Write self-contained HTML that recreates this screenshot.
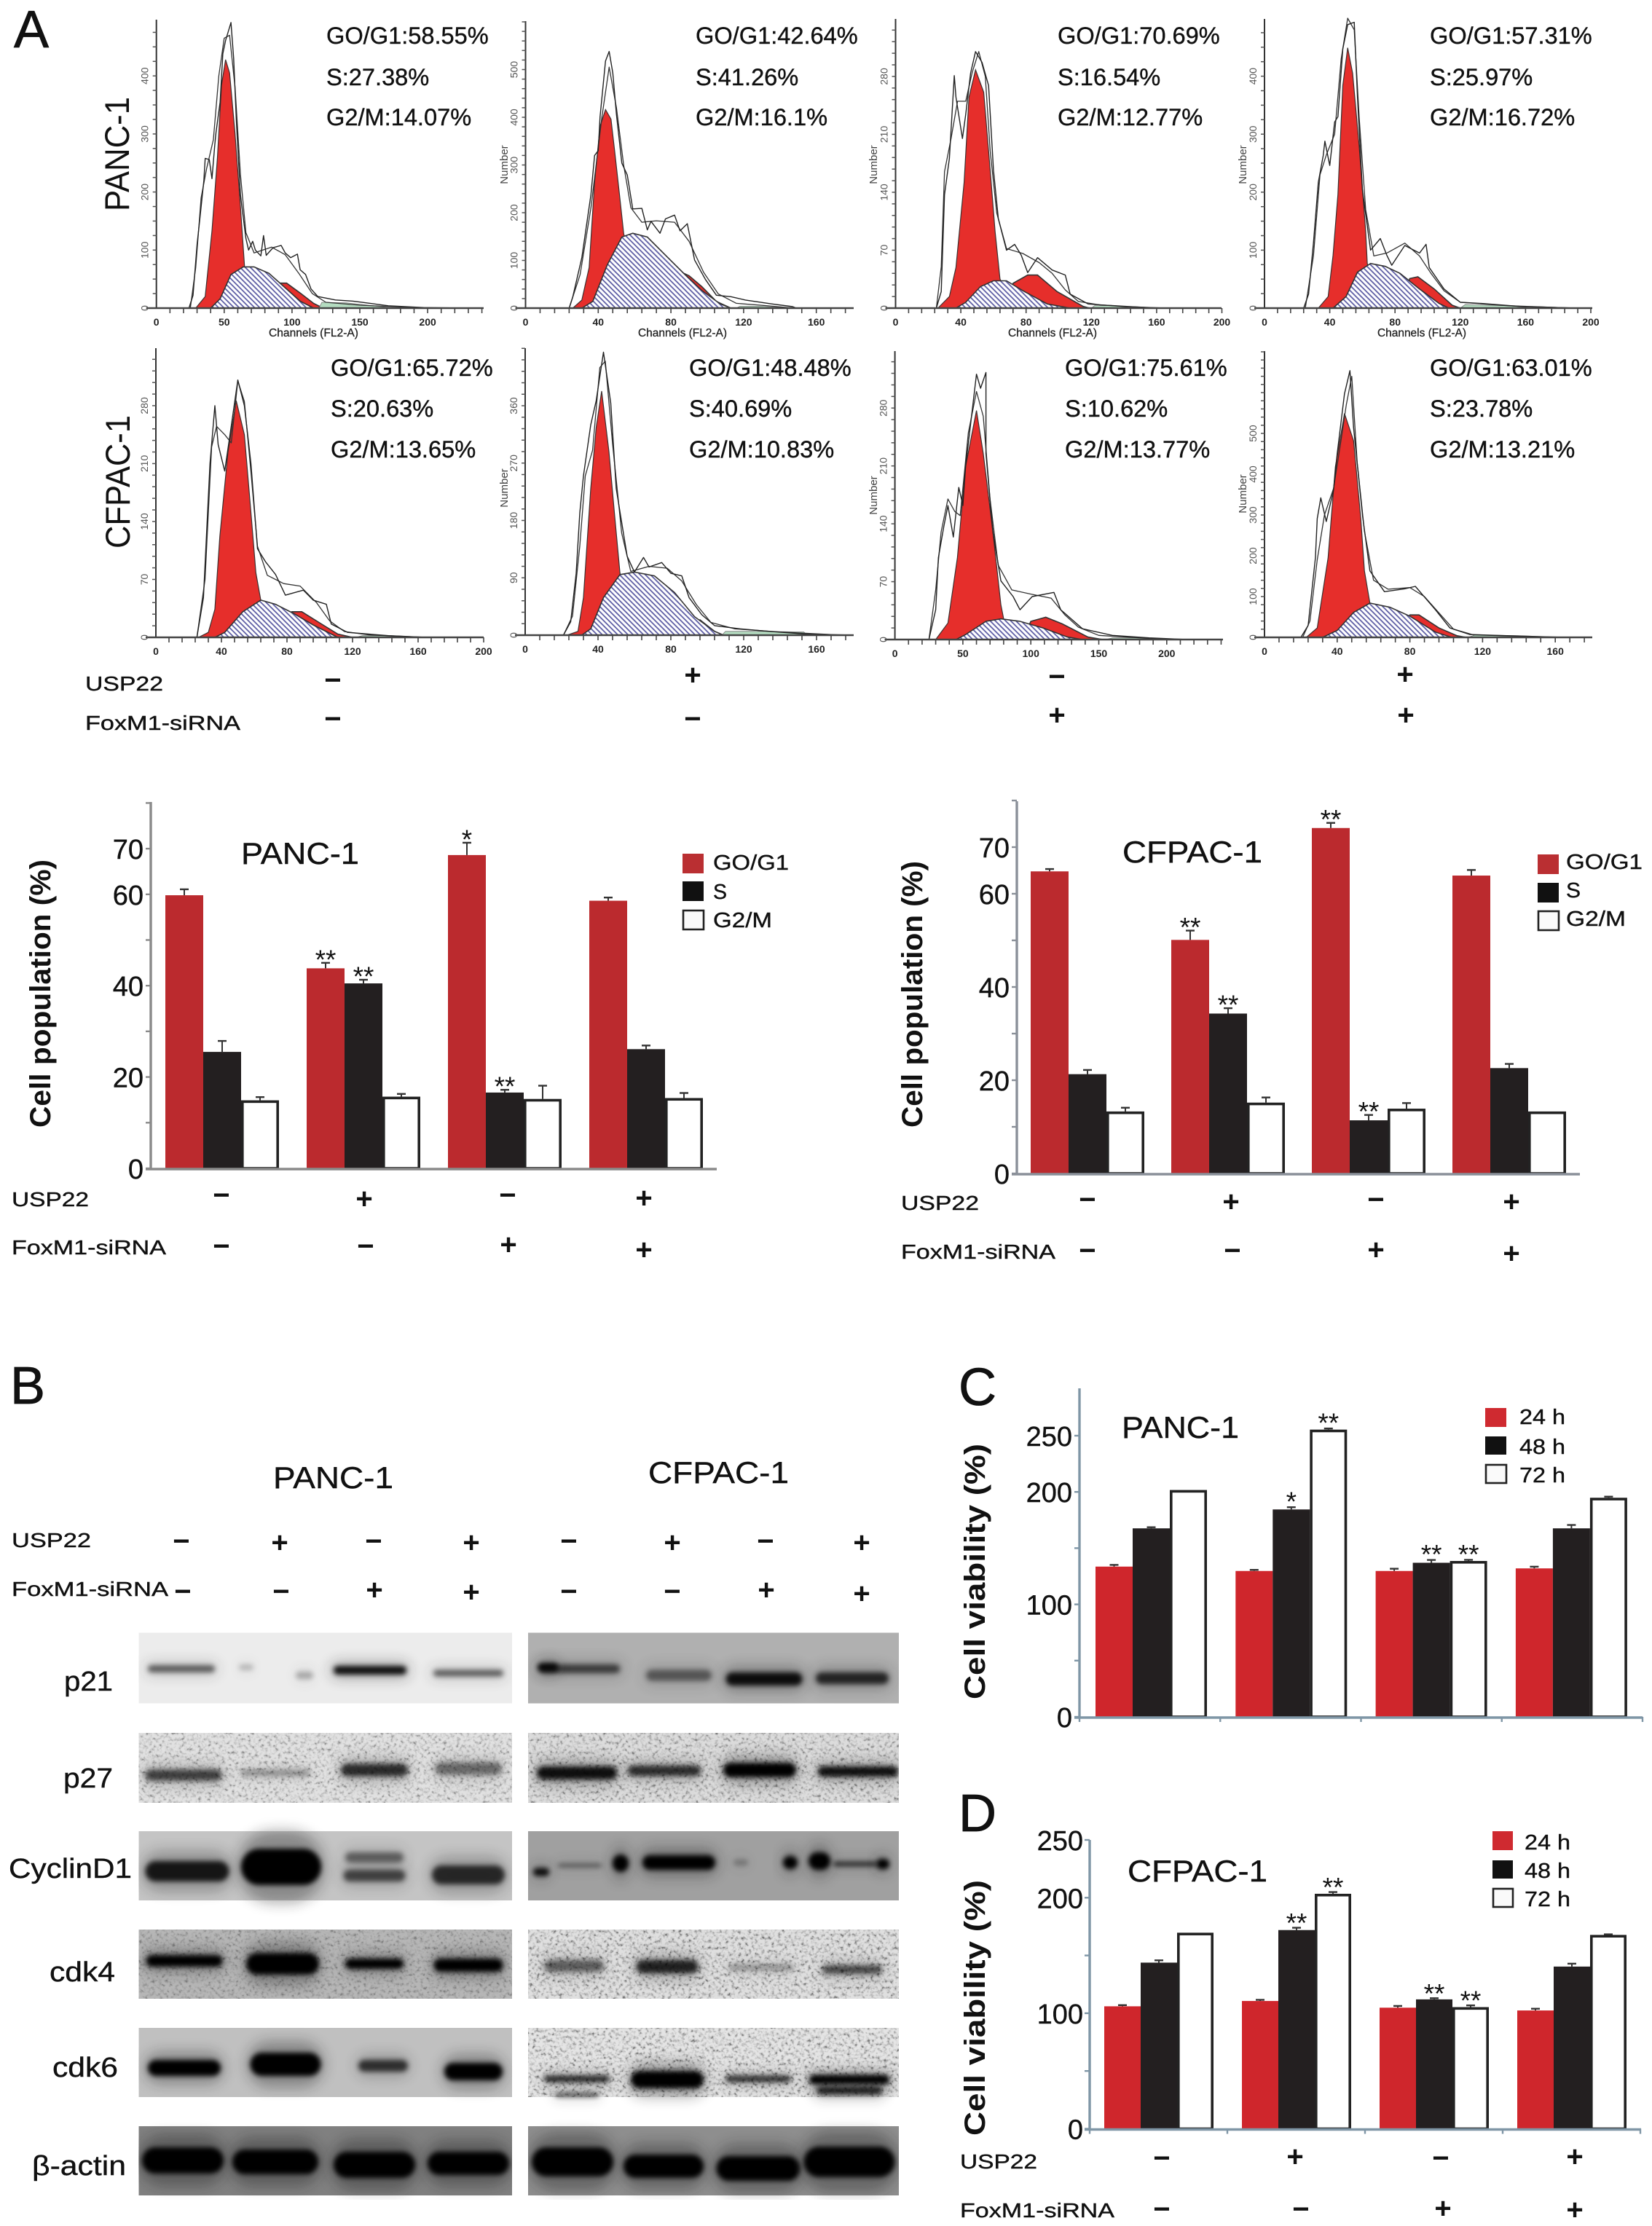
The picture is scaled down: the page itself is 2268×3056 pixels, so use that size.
<!DOCTYPE html>
<html lang="en">
<head>
<meta charset="utf-8">
<title>USP22 and FoxM1 cell cycle figure</title>
<style>
html,body{margin:0;padding:0;background:#fff;}
svg{display:block;}
text{font-family:"Liberation Sans","DejaVu Sans",sans-serif;fill:#111;}
.stat,.title,.leg,.band,.tick,.rowlab{stroke:#111;stroke-width:0.4px;}
.stat{font-size:32.6px;}
.letter{font-size:72px;stroke:#111;stroke-width:0.8px;}
.sign{font-size:40px;font-weight:bold;text-anchor:middle;}
.rowlab{font-size:28px;}
.ytitle{font-size:40px;font-weight:bold;}
.title{font-size:42px;}
.leg{font-size:29px;}
.band{font-size:38px;}
.flowx{font-size:14px;font-weight:bold;fill:#222;text-anchor:middle;}
.flowy{font-size:14px;fill:#555;text-anchor:middle;}
.chan{font-size:16px;fill:#222;stroke:#222;stroke-width:0.3px;}
.num{font-size:15px;fill:#444;text-anchor:middle;}
.tick{font-size:38px;text-anchor:end;}
.star{font-size:37px;text-anchor:middle;}
</style>
</head>
<body>
<svg id="figure" xmlns="http://www.w3.org/2000/svg" width="2268" height="3056" viewBox="0 0 2268 3056">
<defs>
<pattern id="hatch" patternUnits="userSpaceOnUse" width="5" height="5" patternTransform="rotate(45)">
<rect width="5" height="5" fill="#fff"/>
<line x1="0" y1="1.5" x2="5" y2="1.5" stroke="#55559f" stroke-width="1.7"/>
</pattern>
<filter id="soft" x="-60%" y="-150%" width="220%" height="400%"><feGaussianBlur stdDeviation="3.5"/></filter>
<filter id="softer" x="-60%" y="-200%" width="220%" height="500%"><feGaussianBlur stdDeviation="9"/></filter>
<filter id="noise" x="0" y="0" width="100%" height="100%">
<feTurbulence type="fractalNoise" baseFrequency="0.22" numOctaves="2" seed="7"/>
<feColorMatrix type="matrix" values="3 0 0 0 -0.7  3 0 0 0 -0.7  3 0 0 0 -0.7  0 0 0 0 1"/>
</filter>
<clipPath id="clip-left"><rect x="190" y="2240" width="513" height="780"/></clipPath>
<clipPath id="clip-right"><rect x="725" y="2240" width="509" height="780"/></clipPath>
</defs>

<g id="flow-layer"></g>
<g id="bar-layer"></g>
<g id="blot-layer"></g>

<text class="letter" x="19" y="65">A</text>
<text class="letter" x="14" y="1927">B</text>
<text class="letter" x="1316" y="1929">C</text>
<text class="letter" x="1316" y="2514">D</text>

<text x="177" y="290" font-size="47" textLength="157" lengthAdjust="spacingAndGlyphs" transform="rotate(-90 177 290)">PANC-1</text>
<text x="178" y="753" font-size="47" textLength="183" lengthAdjust="spacingAndGlyphs" transform="rotate(-90 178 753)">CFPAC-1</text>

<g>
<text class="stat" x="448" y="60">GO/G1:58.55%</text>
<text class="stat" x="448" y="117">S:27.38%</text>
<text class="stat" x="448" y="172">G2/M:14.07%</text>
<text class="stat" x="955" y="60">GO/G1:42.64%</text>
<text class="stat" x="955" y="117">S:41.26%</text>
<text class="stat" x="955" y="172">G2/M:16.1%</text>
<text class="stat" x="1452" y="60">GO/G1:70.69%</text>
<text class="stat" x="1452" y="117">S:16.54%</text>
<text class="stat" x="1452" y="172">G2/M:12.77%</text>
<text class="stat" x="1963" y="60">GO/G1:57.31%</text>
<text class="stat" x="1963" y="117">S:25.97%</text>
<text class="stat" x="1963" y="172">G2/M:16.72%</text>
<text class="stat" x="454" y="516">GO/G1:65.72%</text>
<text class="stat" x="454" y="572">S:20.63%</text>
<text class="stat" x="454" y="628">G2/M:13.65%</text>
<text class="stat" x="946" y="516">GO/G1:48.48%</text>
<text class="stat" x="946" y="572">S:40.69%</text>
<text class="stat" x="946" y="628">G2/M:10.83%</text>
<text class="stat" x="1462" y="516">GO/G1:75.61%</text>
<text class="stat" x="1462" y="572">S:10.62%</text>
<text class="stat" x="1462" y="628">G2/M:13.77%</text>
<text class="stat" x="1963" y="516">GO/G1:63.01%</text>
<text class="stat" x="1963" y="572">S:23.78%</text>
<text class="stat" x="1963" y="628">G2/M:13.21%</text>
</g>

<g>
<text class="chan" x="369" y="462" textLength="123" lengthAdjust="spacingAndGlyphs">Channels (FL2-A)</text>
<text class="chan" x="876" y="462" textLength="122" lengthAdjust="spacingAndGlyphs">Channels (FL2-A)</text>
<text class="chan" x="1384" y="462" textLength="122" lengthAdjust="spacingAndGlyphs">Channels (FL2-A)</text>
<text class="chan" x="1891" y="462" textLength="122" lengthAdjust="spacingAndGlyphs">Channels (FL2-A)</text>
<text class="num" x="697" y="226" transform="rotate(-90 697 226)">Number</text>
<text class="num" x="1204" y="226" transform="rotate(-90 1204 226)">Number</text>
<text class="num" x="1711" y="226" transform="rotate(-90 1711 226)">Number</text>
<text class="num" x="697" y="670" transform="rotate(-90 697 670)">Number</text>
<text class="num" x="1204" y="680" transform="rotate(-90 1204 680)">Number</text>
<text class="num" x="1711" y="678" transform="rotate(-90 1711 678)">Number</text>
</g>

<g>
<text class="rowlab" x="117" y="948" textLength="107" lengthAdjust="spacingAndGlyphs">USP22</text>
<text class="rowlab" x="117" y="1002" textLength="213" lengthAdjust="spacingAndGlyphs">FoxM1-siRNA</text>
<text class="sign" x="457" y="947">−</text>
<text class="sign" x="951" y="940">+</text>
<text class="sign" x="1451" y="942">−</text>
<text class="sign" x="1929" y="939">+</text>
<text class="sign" x="457" y="1000">−</text>
<text class="sign" x="951" y="1000">−</text>
<text class="sign" x="1451" y="995">+</text>
<text class="sign" x="1930" y="995">+</text>
</g>

<g>
<text class="ytitle" x="69" y="1548" textLength="368" lengthAdjust="spacingAndGlyphs" transform="rotate(-90 69 1548)">Cell population (%)</text>
<text class="title" x="331" y="1186" textLength="162" lengthAdjust="spacingAndGlyphs">PANC-1</text>
<text class="leg" x="979" y="1194" textLength="104" lengthAdjust="spacingAndGlyphs">GO/G1</text>
<text class="leg" x="979" y="1234" textLength="19" lengthAdjust="spacingAndGlyphs">S</text>
<text class="leg" x="979" y="1273" textLength="81" lengthAdjust="spacingAndGlyphs">G2/M</text>
<text class="rowlab" x="16" y="1656" textLength="106" lengthAdjust="spacingAndGlyphs">USP22</text>
<text class="rowlab" x="16" y="1722" textLength="212" lengthAdjust="spacingAndGlyphs">FoxM1-siRNA</text>
<text class="sign" x="304" y="1654">−</text>
<text class="sign" x="500" y="1659">+</text>
<text class="sign" x="697" y="1654">−</text>
<text class="sign" x="884" y="1658">+</text>
<text class="sign" x="304" y="1724">−</text>
<text class="sign" x="502" y="1724">−</text>
<text class="sign" x="698" y="1722">+</text>
<text class="sign" x="884" y="1729">+</text>
</g>

<g>
<text class="ytitle" x="1266" y="1548" textLength="366" lengthAdjust="spacingAndGlyphs" transform="rotate(-90 1266 1548)">Cell population (%)</text>
<text class="title" x="1541" y="1184" textLength="192" lengthAdjust="spacingAndGlyphs">CFPAC-1</text>
<text class="leg" x="2150" y="1193" textLength="105" lengthAdjust="spacingAndGlyphs">GO/G1</text>
<text class="leg" x="2150" y="1232" textLength="20" lengthAdjust="spacingAndGlyphs">S</text>
<text class="leg" x="2150" y="1271" textLength="82" lengthAdjust="spacingAndGlyphs">G2/M</text>
<text class="rowlab" x="1237" y="1661" textLength="107" lengthAdjust="spacingAndGlyphs">USP22</text>
<text class="rowlab" x="1237" y="1728" textLength="212" lengthAdjust="spacingAndGlyphs">FoxM1-siRNA</text>
<text class="sign" x="1493" y="1660">−</text>
<text class="sign" x="1690" y="1663">+</text>
<text class="sign" x="1889" y="1660">−</text>
<text class="sign" x="2075" y="1663">+</text>
<text class="sign" x="1493" y="1730">−</text>
<text class="sign" x="1692" y="1730">−</text>
<text class="sign" x="1889" y="1729">+</text>
<text class="sign" x="2075" y="1734">+</text>
</g>

<g>
<text class="title" x="375" y="2043" textLength="165" lengthAdjust="spacingAndGlyphs">PANC-1</text>
<text class="title" x="890" y="2036" textLength="193" lengthAdjust="spacingAndGlyphs">CFPAC-1</text>
<text class="rowlab" x="16" y="2124" textLength="109" lengthAdjust="spacingAndGlyphs">USP22</text>
<text class="rowlab" x="16" y="2191" textLength="215" lengthAdjust="spacingAndGlyphs">FoxM1-siRNA</text>
<text class="sign" x="249" y="2129">−</text>
<text class="sign" x="384" y="2131">+</text>
<text class="sign" x="513" y="2129">−</text>
<text class="sign" x="647" y="2131">+</text>
<text class="sign" x="781" y="2129">−</text>
<text class="sign" x="923" y="2131">+</text>
<text class="sign" x="1051" y="2129">−</text>
<text class="sign" x="1183" y="2131">+</text>
<text class="sign" x="251" y="2198">−</text>
<text class="sign" x="386" y="2198">−</text>
<text class="sign" x="514" y="2196">+</text>
<text class="sign" x="647" y="2199">+</text>
<text class="sign" x="781" y="2198">−</text>
<text class="sign" x="923" y="2198">−</text>
<text class="sign" x="1052" y="2196">+</text>
<text class="sign" x="1183" y="2201">+</text>
<text class="band" x="88" y="2321" textLength="67" lengthAdjust="spacingAndGlyphs">p21</text>
<text class="band" x="87" y="2454" textLength="68" lengthAdjust="spacingAndGlyphs">p27</text>
<text class="band" x="12" y="2578" textLength="169" lengthAdjust="spacingAndGlyphs">CyclinD1</text>
<text class="band" x="68" y="2720" textLength="90" lengthAdjust="spacingAndGlyphs">cdk4</text>
<text class="band" x="72" y="2851" textLength="90" lengthAdjust="spacingAndGlyphs">cdk6</text>
<text class="band" x="44" y="2986" textLength="129" lengthAdjust="spacingAndGlyphs">β-actin</text>
</g>

<g>
<text class="ytitle" x="1352" y="2333" textLength="351" lengthAdjust="spacingAndGlyphs" transform="rotate(-90 1352 2333)">Cell viability (%)</text>
<text class="title" x="1540" y="1974" textLength="161" lengthAdjust="spacingAndGlyphs">PANC-1</text>
<text class="leg" x="2086" y="1955" textLength="63" lengthAdjust="spacingAndGlyphs">24 h</text>
<text class="leg" x="2086" y="1996" textLength="63" lengthAdjust="spacingAndGlyphs">48 h</text>
<text class="leg" x="2086" y="2035" textLength="63" lengthAdjust="spacingAndGlyphs">72 h</text>
</g>

<g>
<text class="ytitle" x="1352" y="2932" textLength="351" lengthAdjust="spacingAndGlyphs" transform="rotate(-90 1352 2932)">Cell viability (%)</text>
<text class="title" x="1548" y="2583" textLength="192" lengthAdjust="spacingAndGlyphs">CFPAC-1</text>
<text class="leg" x="2093" y="2539" textLength="63" lengthAdjust="spacingAndGlyphs">24 h</text>
<text class="leg" x="2093" y="2578" textLength="63" lengthAdjust="spacingAndGlyphs">48 h</text>
<text class="leg" x="2093" y="2617" textLength="63" lengthAdjust="spacingAndGlyphs">72 h</text>
<text class="rowlab" x="1318" y="2977" textLength="106" lengthAdjust="spacingAndGlyphs">USP22</text>
<text class="rowlab" x="1318" y="3044" textLength="212" lengthAdjust="spacingAndGlyphs">FoxM1-siRNA</text>
<text class="sign" x="1595" y="2976">−</text>
<text class="sign" x="1778" y="2974">+</text>
<text class="sign" x="1978" y="2976">−</text>
<text class="sign" x="2162" y="2974">+</text>
<text class="sign" x="1595" y="3046">−</text>
<text class="sign" x="1786" y="3046">−</text>
<text class="sign" x="1981" y="3045">+</text>
<text class="sign" x="2162" y="3047">+</text>
</g>
</svg>

<script>
// ---------- Flow histogram series: [channel, count] ----------
const p1G1=[[29,0],[36,20],[38,66],[41,133],[45,259],[48,384],[51,428],[54,405],[58,300],[62,175],[65,72],[70,0]];
const p1S=[[40,0],[47,16],[55,58],[64,71],[72,71],[83,60],[93,39],[106,12],[116,0]];
const p1G2=[[80,0],[90,43],[96,43],[106,26],[116,8],[123,0]];
const p1Debris=[[120,0],[122,10],[140,9],[160,4],[175,0]];
const p1Raw=[[24,0],[27,22],[30,110],[32,153],[35,220],[36,258],[39,256],[41,223],[43,280],[44,303],[47,355],[49,438],[51,461],[55,492],[57,430],[59,320],[62,195],[66,120],[68,100],[71,115],[73,100],[77,90],[79,125],[81,91],[86,104],[92,108],[95,95],[99,87],[104,93],[106,66],[110,58],[114,33],[119,20],[132,14],[145,12],[158,8],[171,4],[197,1],[226,0]];
const p1Fit=[[25,0],[29,70],[33,190],[37,240],[42,290],[46,400],[50,465],[54,470],[58,380],[62,230],[66,130],[72,95],[85,105],[95,92],[105,60],[115,25],[125,10],[150,5],[200,0]];

const p2G1=[[26,0],[31,17],[35,85],[38,264],[41,381],[44,416],[47,396],[49,330],[52,228],[54,157],[63,0]];
const p2S=[[31,0],[37,14],[45,91],[53,149],[59,157],[67,149],[77,111],[87,73],[97,37],[107,9],[113,0]];
const p2G2=[[77,0],[87,73],[90,68],[97,45],[105,14],[113,0]];
const p2Debris=[[116,0],[118,4],[130,4],[145,0]];
const p2Raw=[[24,0],[26,24],[31,106],[36,238],[38,320],[40,330],[41,401],[44,518],[46,538],[48,493],[50,406],[53,304],[56,279],[59,208],[64,209],[67,164],[69,182],[74,157],[77,187],[82,195],[85,162],[89,177],[93,101],[99,60],[105,27],[113,24],[121,17],[135,9],[147,3],[149,0]];
const p2Fit=[[24,0],[30,70],[36,210],[42,400],[46,505],[50,420],[54,300],[58,210],[64,180],[72,183],[82,180],[90,140],[98,75],[106,30],[116,10],[130,6],[148,0]];

const p3G1=[[26,0],[33,14],[37,49],[42,152],[45,255],[49,288],[54,261],[58,167],[61,93],[64,35],[74,0]];
const p3S=[[37,0],[43,7],[52,26],[60,33],[68,33],[78,21],[93,5],[107,0]];
const p3G2=[[68,0],[72,30],[81,40],[87,40],[99,20],[115,2],[119,0]];
const p3Debris=[[120,0],[122,3],[135,3],[145,0]];
const p3Raw=[[25,0],[28,20],[30,137],[33,181],[36,281],[37,255],[41,205],[43,234],[46,284],[49,310],[53,297],[57,269],[60,167],[63,108],[68,70],[73,77],[77,64],[81,43],[87,61],[96,46],[104,40],[107,17],[118,5],[139,2],[165,0]];
const p3Fit=[[25,0],[28,50],[30,165],[34,205],[38,250],[43,250],[47,285],[51,310],[55,280],[58,190],[62,115],[68,72],[78,66],[88,55],[96,42],[104,22],[112,8],[125,4],[160,0]];

const p4G1=[[33,0],[39,20],[42,91],[45,196],[48,384],[51,449],[54,405],[58,280],[62,133],[63,77],[71,0]];
const p4S=[[42,0],[50,20],[57,62],[65,77],[74,72],[83,60],[95,33],[107,8],[113,0]];
const p4G2=[[83,0],[89,51],[94,54],[104,33],[115,5],[120,0]];
const p4Debris=[[120,0],[123,6],[150,4],[165,0]];
const p4Raw=[[24,0],[27,24],[30,112],[33,217],[36,263],[37,288],[40,246],[43,321],[45,330],[48,447],[51,489],[55,493],[57,363],[60,204],[65,100],[71,120],[75,91],[78,74],[86,108],[95,95],[99,110],[101,70],[110,33],[120,10],[133,8],[156,3],[191,0]];
const p4Fit=[[25,0],[30,90],[34,230],[38,265],[43,300],[47,430],[51,500],[55,480],[58,330],[62,170],[67,90],[75,95],[86,112],[95,90],[102,60],[110,30],[120,10],[150,4],[190,0]];

const p5G1=[[26,0],[32,6],[36,34],[39,122],[44,224],[49,286],[54,245],[58,151],[61,78],[64,45],[71,0]];
const p5S=[[36,0],[42,6],[53,31],[64,45],[73,40],[84,29],[96,15],[111,0]];
const p5G2=[[79,0],[83,31],[89,31],[102,15],[111,4],[120,0]];
const p5Debris=[[122,0],[126,2],[140,2],[150,0]];
const p5Raw=[[25,0],[29,48],[33,210],[36,280],[38,233],[42,201],[45,242],[50,311],[54,280],[58,210],[62,107],[67,91],[73,76],[79,51],[90,57],[96,45],[104,40],[107,16],[117,6],[142,2],[165,0]];
const p5Fit=[[25,0],[30,70],[34,230],[37,255],[42,245],[46,235],[50,310],[54,285],[58,200],[62,110],[68,75],[78,65],[88,62],[98,42],[106,20],[115,7],[130,3],[165,0]];

const p6G1=[[23,0],[29,6],[32,59],[36,230],[39,326],[42,383],[46,288],[49,192],[52,99],[58,0]];
const p6S=[[31,0],[36,10],[43,59],[52,95],[60,99],[71,93],[82,67],[93,29],[104,6],[109,0]];
const p6G2=[[90,0],[96,24],[104,6],[108,0]];
const p6Debris=[[108,0],[110,6],[130,6],[153,5],[155,0]];
const p6Raw=[[21,0],[25,21],[28,97],[30,192],[32,250],[36,330],[39,368],[43,444],[47,364],[50,230],[56,124],[60,99],[65,122],[68,107],[75,114],[80,97],[86,93],[90,59],[97,32],[104,15],[118,10],[134,6],[153,2],[180,0]];
const p6Fit=[[21,0],[26,30],[30,140],[33,250],[37,290],[41,420],[44,430],[48,300],[53,160],[58,100],[68,108],[78,105],[86,85],[94,48],[102,20],[115,10],[140,5],[175,0]];

const p7G1=[[30,0],[39,20],[46,99],[52,209],[60,277],[65,225],[72,131],[78,42],[80,25],[94,0]];
const p7S=[[45,0],[52,6],[67,22],[78,25],[92,22],[109,14],[127,3],[138,0]];
const p7G2=[[94,0],[100,22],[111,27],[123,19],[142,3],[153,0]];
const p7Debris=[[155,0],[160,2],[180,2],[190,0]];
const p7Raw=[[25,0],[30,36],[32,99],[36,137],[39,162],[43,124],[47,184],[50,162],[52,209],[60,321],[63,304],[67,323],[67,225],[72,131],[78,71],[87,52],[92,36],[101,52],[117,57],[122,36],[138,13],[160,5],[187,2],[215,0]];
const p7Fit=[[25,0],[30,60],[34,130],[39,170],[44,155],[48,150],[54,250],[60,300],[65,270],[70,170],[76,90],[86,60],[100,55],[115,50],[125,30],[135,15],[150,5],[200,0]];

const p8G1=[[23,0],[29,23],[35,195],[39,418],[44,549],[49,482],[53,291],[55,163],[58,84],[66,0]];
const p8S=[[32,0],[40,17],[49,61],[58,84],[69,74],[80,52],[94,13],[103,0]];
const p8G2=[[75,0],[80,55],[85,55],[96,23],[106,4],[111,0]];
const p8Debris=[[112,0],[116,6],[140,4],[165,0]];
const p8Raw=[[20,0],[24,29],[28,195],[29,291],[31,342],[34,284],[38,361],[40,450],[44,597],[47,654],[49,514],[54,297],[58,163],[61,144],[66,112],[77,119],[83,125],[88,99],[94,68],[102,23],[113,7],[135,4],[165,0]];
const p8Fit=[[21,0],[25,40],[29,190],[33,300],[38,365],[42,480],[45,570],[48,640],[51,430],[55,260],[60,140],[68,118],[80,122],[88,100],[96,60],[104,20],[115,6],[160,0]];

// Flow tick labels
const xTicks50=[0,50,100,150,200];
const xTicks40=[0,40,80,120,160];
const xTicks40To200=[0,40,80,120,160,200];
const yTicks100To400=[0,100,200,300,400];
const yTicks100To500=[0,100,200,300,400,500];
const yTicks70=[0,70,140,210,280];
const yTicks90=[0,90,180,270,360];

// ---------- Bar chart data ----------
const groupCount=4;
const populationTickValues=[0,10,20,30,40,50,60,70,80];
const populationTickLabels=[0,20,40,60,70];
const viabilityTickValues=[0,50,100,150,200,250];
const viabilityTickLabels=[0,100,200,250];

const pancG1Values=[59.8,43.8,68.6,58.6];
const pancSValues=[25.5,40.5,16.6,26.1];
const pancG2Values=[14.9,15.7,15.2,15.4];
const pancG1Errors=[1.3,1.2,2.7,0.7];
const pancSErrors=[2.4,0.8,0.6,0.8];
const pancG2Errors=[0.7,0.6,2.9,1.1];
const pancStars=[[1,0,'**'],[1,1,'**'],[2,0,'*'],[2,1,'**']];

const cfpacG1Values=[64.8,50.1,74.1,63.9];
const cfpacSValues=[21.3,34.3,11.4,22.6];
const cfpacG2Values=[13.3,15.2,13.9,13.3];
const cfpacG1Errors=[0.5,2.0,1.1,1.2];
const cfpacSErrors=[0.9,1.15,1.15,0.9];
const cfpacG2Errors=[0.8,1.1,1.2,0];
const cfpacStars=[[1,0,'**'],[1,1,'**'],[2,0,'**'],[2,1,'**']];

const viabPanc24=[133.6,129.7,129.7,132];
const viabPanc48=[167.6,184.4,137,167.6];
const viabPanc72=[201.7,255.4,138.6,194.8];
const viabPanc24Err=[1.5,1,2,1.5];
const viabPanc48Err=[1,2,2.5,3];
const viabPanc72Err=[0,1,1,1];
const viabPancStars=[[1,1,'*'],[1,2,'**'],[2,1,'**'],[2,2,'**']];

const viabCfpac24=[106,110.6,104.8,102.4];
const viabCfpac48=[143.8,172,112,140.4];
const viabCfpac72=[169.7,203.4,105.3,167.8];
const viabCfpac24Err=[1,1,1.5,1.5];
const viabCfpac48Err=[2,2,1,2.5];
const viabCfpac72Err=[0,1.5,1.5,0.5];
const viabCfpacStars=[[1,1,'**'],[1,2,'**'],[2,1,'**'],[2,2,'**']];

// ---------- Helpers ----------
const NS='http://www.w3.org/2000/svg';
function mk(parent,tag,attrs){
  const e=document.createElementNS(NS,tag);
  for(const k in attrs){e.setAttribute(k,attrs[k]);}
  parent.appendChild(e);
  return e;
}
function pointsOf(curve,sx,sy){
  return curve.map(function(p){return sx(p[0]).toFixed(1)+','+sy(p[1]).toFixed(1);}).join(' ');
}

// ---------- Flow panels ----------
function drawFlow(name,a,g1,s,g2,debris,raw,fit,xTicks,yTicks){
  const layer=document.getElementById('flow-layer');
  const g=mk(layer,'g',{});
  
  
  const sx=function(c){return a.x0+c*a.pxCh;};
  const sy=function(v){return a.y0-v*a.pxCt;};

  const fillG1=mk(g,'polygon',{points:pointsOf(g1,sx,sy),fill:'#e62e2b',stroke:'#3a3030','stroke-width':1.2});
  
  
  const fillG2=mk(g,'polygon',{points:pointsOf(g2,sx,sy),fill:'#e62e2b',stroke:'#333','stroke-width':1.6});
  
  
  const fillS=mk(g,'polygon',{points:pointsOf(s,sx,sy),fill:'url(#hatch)',stroke:'#333','stroke-width':1.6});
  
  
  const fillD=mk(g,'polygon',{points:pointsOf(debris,sx,sy),fill:'#b4dcc0',stroke:'#777','stroke-width':0.8});
  
  
  const lineFit=mk(g,'polyline',{points:pointsOf(fit,sx,sy),fill:'none',stroke:'#333','stroke-width':1.3,'stroke-linejoin':'round'});
  
  
  const lineRaw=mk(g,'polyline',{points:pointsOf(raw,sx,sy),fill:'none',stroke:'#222','stroke-width':1.4,'stroke-linejoin':'round'});
  
  

  const yAxis=mk(g,'line',{x1:a.x0,x2:a.x0,y1:a.yTop,y2:a.y0,stroke:'#333','stroke-width':2});
  
  
  const xAxis=mk(g,'line',{x1:a.x0-14,x2:a.xEnd,y1:a.y0,y2:a.y0,stroke:'#444','stroke-width':2.6});
  
  

  for(let c=a.xMinor;sx(c)<=a.xEnd+0.5;c+=a.xMinor){
    const t=mk(g,'line',{x1:sx(c),x2:sx(c),y1:a.y0,y2:a.y0+7,stroke:'#444','stroke-width':1.6});
    
    
  }
  for(let v=a.yMinor;sy(v)>=a.yTop;v+=a.yMinor){
    const t=mk(g,'line',{x1:a.x0-5,x2:a.x0,y1:sy(v),y2:sy(v),stroke:'#555','stroke-width':1.5});
    
    
  }
  xTicks.forEach(function(c){
    const l=mk(g,'text',{x:sx(c),y:a.y0+24,'class':'flowx'});
    l.textContent=String(c);
    
    
  });
  yTicks.forEach(function(v){
    const lx=a.x0-11,ly=sy(v);
    const l=mk(g,'text',{x:lx,y:ly,'class':'flowy',transform:'rotate(-90 '+lx+' '+ly+')'});
    l.textContent=String(v);
    
    
  });
}
drawFlow('panc1-control',{x0:214.7,pxCh:1.862,xEnd:664,y0:423,pxCt:0.797,yTop:27,xMinor:10,yMinor:25},p1G1,p1S,p1G2,p1Debris,p1Raw,p1Fit,xTicks50,yTicks100To400);
drawFlow('panc1-usp22',{x0:721.5,pxCh:2.495,xEnd:1172,y0:423,pxCt:0.655,yTop:29,xMinor:8,yMinor:20},p2G1,p2S,p2G2,p2Debris,p2Raw,p2Fit,xTicks40,yTicks100To500);
drawFlow('panc1-sirna',{x0:1229.5,pxCh:2.24,xEnd:1677,y0:423,pxCt:1.136,yTop:26,xMinor:8,yMinor:14},p3G1,p3S,p3G2,p3Debris,p3Raw,p3Fit,xTicks40To200,yTicks70);
drawFlow('panc1-both',{x0:1736,pxCh:2.24,xEnd:2186,y0:423,pxCt:0.796,yTop:26,xMinor:8,yMinor:25},p4G1,p4S,p4G2,p4Debris,p4Raw,p4Fit,xTicks40To200,yTicks100To400);
drawFlow('cfpac1-control',{x0:214,pxCh:2.25,xEnd:664,y0:875,pxCt:1.136,yTop:478,xMinor:8,yMinor:14},p5G1,p5S,p5G2,p5Debris,p5Raw,p5Fit,xTicks40To200,yTicks70);
drawFlow('cfpac1-usp22',{x0:721,pxCh:2.5,xEnd:1172,y0:872,pxCt:0.875,yTop:478,xMinor:8,yMinor:18},p6G1,p6S,p6G2,p6Debris,p6Raw,p6Fit,xTicks40,yTicks90);
drawFlow('cfpac1-sirna',{x0:1228.6,pxCh:1.866,xEnd:1679,y0:878,pxCt:1.135,yTop:482,xMinor:10,yMinor:14},p7G1,p7S,p7G2,p7Debris,p7Raw,p7Fit,xTicks50,yTicks70);
drawFlow('cfpac1-both',{x0:1736,pxCh:2.495,xEnd:2186,y0:875,pxCt:0.56,yTop:482,xMinor:8,yMinor:20},p8G1,p8S,p8G2,p8Debris,p8Raw,p8Fit,xTicks40,yTicks100To500);

// ---------- Bar charts ----------
function drawBars(name,a,series,errors,colors,tickValues,tickLabels,stars){
  const layer=document.getElementById('bar-layer');
  const g=mk(layer,'g',{});
  
  
  const sy=function(v){return a.base-v*a.unit;};
  const sx=function(grp,ser){return a.start+grp*a.step+ser*a.barW;};

  series.forEach(function(vals,ser){
    vals.forEach(function(v,grp){
      const x=sx(grp,ser),cx=x+a.barW/2;
      const top=sy(v),cap=sy(v+errors[ser][grp]);
      if(errors[ser][grp]>0){
        const eb=mk(g,'line',{x1:cx,x2:cx,y1:top,y2:cap,stroke:'#333','stroke-width':2});
        
        
        const ec=mk(g,'line',{x1:cx-6,x2:cx+6,y1:cap,y2:cap,stroke:'#333','stroke-width':2.4});
        
        
      }
      const outlined=colors[ser]==='#ffffff';
      const inset=outlined?1.8:0;
      const r=mk(g,'rect',{x:x+inset,y:top+inset,width:a.barW-2*inset,height:a.base-top-inset,fill:colors[ser]});
      if(outlined){r.setAttribute('stroke','#222');r.setAttribute('stroke-width',3.6);}
      
      
    });
  });

  const yAxis=mk(g,'line',{x1:a.axisX,x2:a.axisX,y1:a.axisTop,y2:a.base,stroke:a.axisColor,'stroke-width':3.4});
  
  
  const xAxis=mk(g,'line',{x1:a.axisX-7,x2:a.axisEnd,y1:a.base+1,y2:a.base+1,stroke:a.axisColor,'stroke-width':3.6});
  
  
  tickValues.forEach(function(v){
    const t=mk(g,'line',{x1:a.axisX-7,x2:a.axisX,y1:sy(v),y2:sy(v),stroke:a.axisColor,'stroke-width':2.4});
    
    
  });
  tickLabels.forEach(function(v){
    const l=mk(g,'text',{x:a.labelX,y:sy(v)+14,'class':'tick'});
    l.textContent=String(v);
    
    
  });
  if(a.xTickStep){
    for(let i=0;i<=groupCount;i++){
      const t=mk(g,'line',{x1:a.axisX+i*a.xTickStep,x2:a.axisX+i*a.xTickStep,y1:a.base,y2:a.base+7,stroke:a.axisColor,'stroke-width':2.4});
      
      
    }
  }
  stars.forEach(function(st){
    const grp=st[0],ser=st[1];
    const cap=sy(series[ser][grp]+errors[ser][grp]);
    const l=mk(g,'text',{x:sx(grp,ser)+a.barW/2,y:cap+a.starDy,'class':'star'});
    l.textContent=st[2];
    
    
  });
  a.legend.forEach(function(box,i){
    const white=colors[i]==='#ffffff';
    const k=mk(g,'rect',{x:box[0],y:box[1],width:box[2],height:box[3],fill:white?'#fafafa':(i===0?a.legendRed:'#111')});
    if(white){k.setAttribute('stroke','#222');k.setAttribute('stroke-width',2.6);}
    
    
  });
}
drawBars('population-panc1',
  {base:1604,unit:6.27,start:227,step:194,barW:52,axisX:207,axisTop:1101,axisEnd:984,axisColor:'#8a8a8a',labelX:197,starDy:8,legendRed:'#ba2f32',
   legend:[[937,1172,29,27],[937,1210,29,27],[938,1250,28,26]]},
  [pancG1Values,pancSValues,pancG2Values],[pancG1Errors,pancSErrors,pancG2Errors],
  ['#bb2a2e','#231f20','#ffffff'],populationTickValues,populationTickLabels,pancStars);
drawBars('population-cfpac1',
  {base:1611,unit:6.4,start:1415,step:193,barW:52,axisX:1396,axisTop:1100,axisEnd:2169,axisColor:'#8a9099',labelX:1386,starDy:8,legendRed:'#ba2f32',
   legend:[[2111,1173,29,27],[2111,1212,29,27],[2112,1251,28,26]]},
  [cfpacG1Values,cfpacSValues,cfpacG2Values],[cfpacG1Errors,cfpacSErrors,cfpacG2Errors],
  ['#bb2a2e','#231f20','#ffffff'],populationTickValues,populationTickLabels,cfpacStars);
drawBars('viability-panc1',
  {base:2357,unit:1.544,start:1504,step:192.3,barW:51,axisX:1482,axisTop:1906,axisEnd:2255,axisColor:'#7f96a6',labelX:1472,starDy:5,legendRed:'#cf2a30',xTickStep:193.25,
   legend:[[2039,1933,29,26],[2039,1972,29,25],[2040,2011,28,25]]},
  [viabPanc24,viabPanc48,viabPanc72],[viabPanc24Err,viabPanc48Err,viabPanc72Err],
  ['#cf262c','#231f20','#ffffff'],viabilityTickValues,viabilityTickLabels,viabPancStars);
drawBars('viability-cfpac1',
  {base:2922.5,unit:1.586,start:1516,step:189,barW:50,axisX:1496,axisTop:2526,axisEnd:2253,axisColor:'#7f96a6',labelX:1487,starDy:6,legendRed:'#cf2a30',xTickStep:189,
   legend:[[2049,2514,28,26],[2049,2554,28,25],[2050,2593,27,25]]},
  [viabCfpac24,viabCfpac48,viabCfpac72],[viabCfpac24Err,viabCfpac48Err,viabCfpac72Err],
  ['#cf262c','#231f20','#ffffff'],viabilityTickValues,viabilityTickLabels,viabCfpacStars);

// ---------- Western blots ----------
const blotLeftBackgrounds=[['p21',2241.5,97,'#ececec',0],['p27',2379,96,'#d4d4d4',0.3],['cyclind1',2514,95,'#c4c4c4',0],['cdk4',2649,95,'#a4a4a4',0.2],['cdk6',2784,95,'#c0c0c0',0],['beta-actin',2919,95,'#808080',0]];
const blotRightBackgrounds=[['p21',2241.5,97,'#b0b0b0',0],['p27',2379,96,'#cacaca',0.35],['cyclind1',2514,95,'#a0a0a0',0],['cdk4',2649,95,'#cacaca',0.4],['cdk6',2784,95,'#d2d2d2',0.4],['beta-actin',2919,95,'#8e8e8e',0]];
const blotLeftBands=[
[249,2291,92,10,.55],[338,2289,20,8,.2],[418,2300,24,10,.25],[508,2293,100,12,.9],[643,2297,96,9,.55],
[252,2437,105,15,.65],[378,2434,95,9,.3],[514,2430,92,17,.75],[643,2428,92,17,.45],
[257,2569,115,28,.85],[386,2563,110,50,1],[514,2550,80,14,.45],[514,2575,85,16,.6],[643,2574,100,26,.75],
[253,2692,105,16,1],[388,2696,100,30,1],[514,2696,80,14,1],[643,2698,95,18,1],
[253,2839,100,22,1],[392,2834,97,32,1],[526,2836,68,16,.7],[650,2844,80,24,1],
[251,2966,112,36,1],[378,2968,118,34,1],[514,2972,112,36,1],[643,2970,112,32,1]];
const blotRightBands=[
[796,2291,110,12,.6],[752,2289,28,11,.9],[932,2300,90,15,.45],[1049,2305,105,18,.9],[1170,2304,100,16,.75],
[792,2434,110,18,.9],[912,2431,100,14,.75],[1043,2430,100,20,1],[1178,2432,110,14,.9],
[743,2570,22,11,.9],[796,2561,60,5,.45],[852,2558,22,24,1],[932,2557,100,20,1],[1085,2557,20,18,1],[1017,2557,20,8,.25],[1125,2555,30,24,1],[1174,2559,60,6,.75],[1212,2559,18,14,1],
[788,2699,82,16,.5],[916,2700,85,18,.8],[1045,2701,90,9,.28],[1170,2704,82,12,.6],
[792,2854,90,9,.8],[792,2876,60,5,.7],[916,2855,100,24,1],[1041,2854,90,9,.75],[1166,2855,110,13,1],[1166,2870,90,11,.8],
[786,2968,112,40,1],[911,2974,110,32,1],[1041,2977,115,34,1],[1166,2968,125,42,1]];

function drawBlot(name,x,w,backgrounds,bands,clip){
  const layer=document.getElementById('blot-layer');
  const g=mk(layer,'g',{'clip-path':'url(#'+clip+')'});
  
  
  backgrounds.forEach(function(b){
    const r=mk(g,'rect',{x:x,y:b[1],width:w,height:b[2],fill:b[3]});
    
    
    if(b[4]>0){
      const n=mk(g,'rect',{x:x,y:b[1],width:w,height:b[2],filter:'url(#noise)',opacity:b[4]});
      
      
    }
  });
  bands.forEach(function(b){
    const h=mk(g,'rect',{x:b[0]-b[2]*0.55,y:b[1]-b[3],width:b[2]*1.1,height:b[3]*2,rx:b[3],fill:'#1a1a1a',opacity:b[4]*0.35,filter:'url(#softer)'});
    
    
    const r=mk(g,'rect',{x:b[0]-b[2]/2,y:b[1]-b[3]/2,width:b[2],height:b[3],rx:Math.min(b[2],b[3])/2,fill:'#060606',opacity:b[4],filter:'url(#soft)'});
    
    
  });
}
drawBlot('panc1',190.5,512.5,blotLeftBackgrounds,blotLeftBands,'clip-left');
drawBlot('cfpac1',725,509,blotRightBackgrounds,blotRightBands,'clip-right');
</script>
</body>
</html>
